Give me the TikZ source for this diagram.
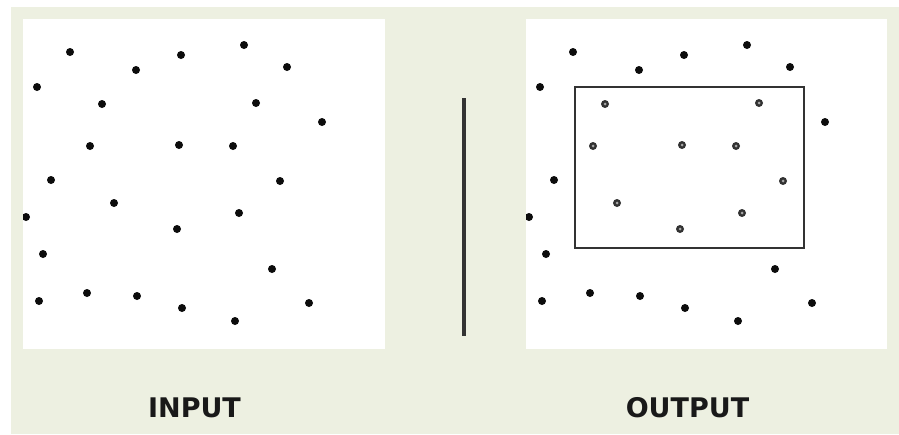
\documentclass[tikz,border=0pt]{standalone}
\usepackage{fontspec}
\newfontfamily\capfont{DejaVu Sans}
\usetikzlibrary{positioning}
\definecolor{bgcolor}{RGB}{237,240,225}
\definecolor{dotcolor}{RGB}{12,12,12}
\definecolor{ringcolor}{RGB}{50,50,50}
\tikzset{
  panel/.style={fill=white},
  divider/.style={line width=4, draw=black!80},
  selbox/.style={draw=black!80, line width=1.4},
  caption/.style={font=\capfont\bfseries\fontsize{27}{30}\selectfont, text=black!90},
}
\newcommand{\scatdot}[1]{%
  \fill[dotcolor] #1 circle (4);
}
\newcommand{\seldot}[1]{%
  \fill[ringcolor] #1 circle (4);
  \fill[black!35] #1 circle (1.5);
}
\begin{document}
\begin{tikzpicture}[x=1pt, y=-1pt]
    \useasboundingbox (0,0) rectangle (899,434);
    \fill[white] (0,0) rectangle (899,434);
    \fill[bgcolor] (11,7) rectangle (899,434);
    % two panels
    \fill[panel] (23,19) rectangle (385,349);
    \fill[panel] (526,19) rectangle (887,349);
    % input points
    \begin{scope}
      \clip (23,19) rectangle (385,349);
      \foreach \x/\y/\s in {70/52/0, 181/55/0, 244/45/0, 287/67/0, 136/70/0,
          37/87/0, 102/104/1, 256/103/1, 322/122/0, 90/146/1, 179/145/1,
          233/146/1, 51/180/0, 280/181/1, 114/203/1, 26/217/0, 239/213/1,
          177/229/1, 43/254/0, 272/269/0, 39/301/0, 87/293/0, 137/296/0,
          182/308/0, 235/321/0, 309/303/0} {
        \scatdot{(\x,\y)}
      }
    \end{scope}
    % output points, the ones in the box marked
    \begin{scope}[xshift=503]
      \clip (23,19) rectangle (384,349);
      \foreach \x/\y/\s in {70/52/0, 181/55/0, 244/45/0, 287/67/0, 136/70/0,
          37/87/0, 102/104/1, 256/103/1, 322/122/0, 90/146/1, 179/145/1,
          233/146/1, 51/180/0, 280/181/1, 114/203/1, 26/217/0, 239/213/1,
          177/229/1, 43/254/0, 272/269/0, 39/301/0, 87/293/0, 137/296/0,
          182/308/0, 235/321/0, 309/303/0} {
        \ifnum\s=1 \seldot{(\x,\y)} \else \scatdot{(\x,\y)} \fi
      }
      \draw[selbox] (72,87) rectangle (301,248);
    \end{scope}
    \draw[divider] (464,98) -- (464,336);
    \node[caption] (inlabel) at (194.5,408) {INPUT};
    \node[caption] (outlabel) at (687.5,408) {OUTPUT};
  \end{tikzpicture}
\end{document}
